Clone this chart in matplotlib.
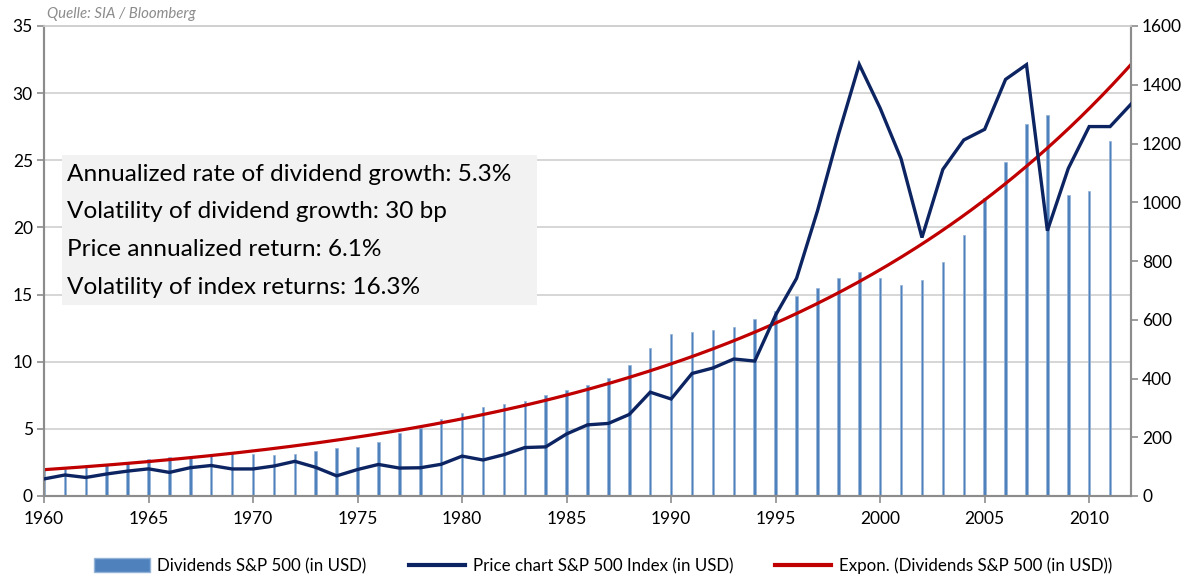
import numpy as np
import matplotlib
matplotlib.use("Agg")
import matplotlib.pyplot as plt
from matplotlib.patches import Patch, Rectangle
from matplotlib.lines import Line2D

plt.rcParams['font.family'] = ['Lato', 'DejaVu Sans']

years = list(range(1960, 2013))
dividends = [1.95, 2.02, 2.13, 2.28, 2.50, 2.72, 2.87, 2.92, 3.07, 3.16,
             3.14, 3.07, 3.15, 3.38, 3.60, 3.68, 4.05, 4.67, 5.07, 5.70,
             6.16, 6.63, 6.87, 7.09, 7.53, 7.90, 8.28, 8.81, 9.73, 11.05,
             12.09, 12.20, 12.38, 12.58, 13.18, 13.79, 14.90, 15.50, 16.20, 16.71,
             16.27, 15.74, 16.08, 17.39, 19.44, 22.22, 24.88, 27.73, 28.39, 22.41,
             22.73, 26.43, 30.60]
price = [58.11, 71.55, 63.10, 75.02, 84.75, 92.43, 80.33, 96.47, 103.86, 92.06,
         92.15, 102.09, 118.05, 97.55, 68.56, 90.19, 107.46, 95.10, 96.11, 107.94,
         135.76, 122.55, 140.64, 164.93, 167.24, 211.28, 242.17, 247.08, 277.72, 353.40,
         330.22, 417.09, 435.71, 466.45, 459.27, 615.93, 740.74, 970.43, 1229.23, 1469.25,
         1320.28, 1148.08, 879.82, 1111.92, 1211.92, 1248.29, 1418.30, 1468.36, 903.25, 1115.10,
         1257.64, 1257.60, 1334.0]
left_ticks = [0, 5, 10, 15, 20, 25, 30, 35]
right_ticks = [0, 200, 400, 600, 800, 1000, 1200, 1400, 1600]
x_ticks = [1960, 1965, 1970, 1975, 1980, 1985, 1990, 1995, 2000, 2005, 2010]
stats_lines = ["Annualized rate of dividend growth: 5.3%",
               "Volatility of dividend growth: 30 bp",
               "Price annualized return: 6.1%",
               "Volatility of index returns: 16.3%"]
legend_labels = ["Dividends S&P 500 (in USD)",
                 "Price chart S&P 500 Index (in USD)",
                 "Expon. (Dividends S&P 500 (in USD))"]
source = "Quelle: SIA / Bloomberg"

yrs = np.array(years, dtype=float)
divs = np.array(dividends)
b, a = np.polyfit(yrs - yrs[0], np.log(divs), 1)
xs = np.linspace(yrs[0], yrs[-1], 300)
trend = np.exp(a + b * (xs - yrs[0]))

fig = plt.figure(figsize=(11.94, 5.76), dpi=100)
ax = fig.add_axes([44/1194, 1 - 496/576, 1087/1194, 470/576])
ax2 = ax.twinx()

ax.set_zorder(1)
ax2.set_zorder(2)
ax2.patch.set_visible(False)

bar_color = '#4f81bd'
ax.bar(yrs, divs, width=0.12, color=bar_color, edgecolor='#95b3d7', linewidth=0.5, zorder=2)
ax.plot(xs, trend, color='#c00000', lw=2.3, zorder=4)
ax2.plot(yrs, price, color='#0c2461', lw=2.4, zorder=3, solid_joinstyle='miter')

ax.set_xlim(1960, 2012)
ax.set_ylim(0, 35)
ax2.set_ylim(0, 1600)
ax.set_yticks(left_ticks)
ax2.set_yticks(right_ticks)
ax.set_xticks(x_ticks)
ax.grid(axis='y', color='#d0d0d0', lw=1.2, zorder=0)
ax.set_axisbelow(True)

for a_ in (ax, ax2):
    for s in a_.spines.values():
        s.set_color('#8c8c8c')
        s.set_linewidth(1.5)
    a_.spines['top'].set_color('#d0d0d0')
    a_.spines['top'].set_linewidth(1.2)
ax.tick_params(axis='both', labelsize=12.5, colors='#8c8c8c', labelcolor='black', length=5, width=1.2, pad=3)
ax2.tick_params(axis='y', labelsize=12.5, colors='#8c8c8c', labelcolor='black', length=5, width=1.2, pad=3)
ax.tick_params(axis='x', pad=6)

fig.text(47/1194, 1 - 18/576, source, fontsize=10.8, style='italic', color='#8c8c8c', ha='left', va='baseline')

# stats box
box = Rectangle((62/1194, 1 - 305/576), 475/1194, 150/576,
                transform=fig.transFigure, facecolor='#f2f2f2', edgecolor='none', zorder=5)
fig.patches.append(box)
for i, t in enumerate(stats_lines):
    fig.text(67/1194, 1 - (181 + i * 37.5)/576, t, fontsize=17.6, color='black',
             ha='left', va='baseline', zorder=6)

handles = [Patch(facecolor=bar_color, edgecolor='#95b3d7'),
           Line2D([0], [0], color='#0c2461', lw=3),
           Line2D([0], [0], color='#c00000', lw=3)]
fig.legend(handles, legend_labels, loc='center', bbox_to_anchor=(603/1194, 1 - 566/576), ncol=3,
           frameon=False, fontsize=12.2, handlelength=3.3, handleheight=0.9, columnspacing=2.5,
           handletextpad=0.45)

fig.savefig('out.png', dpi=100)
